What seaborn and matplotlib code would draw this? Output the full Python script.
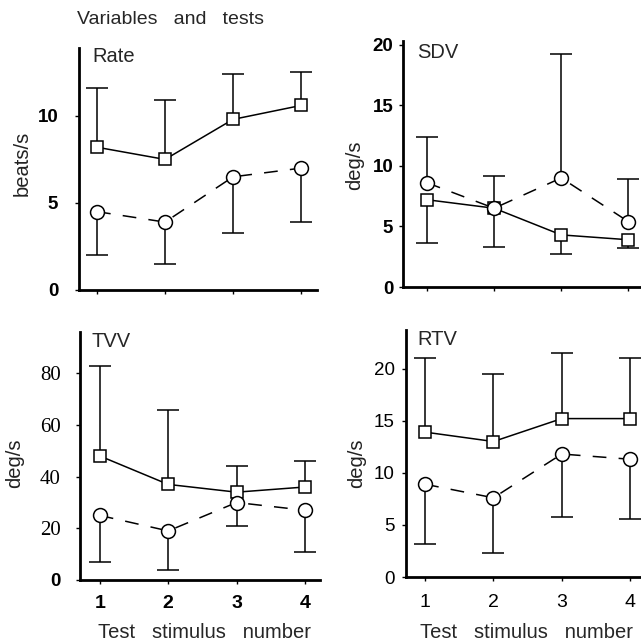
import numpy as np
import matplotlib
matplotlib.use("Agg")
import matplotlib.pyplot as plt
import seaborn as sns

# test numbers on the x axis
tests = [1, 2, 3, 4]

# Rate (beats/s): squares with upper bars, circles with lower bars
rate_sq = [8.2, 7.5, 9.8, 10.6]
rate_sq_end = [11.6, 10.9, 12.4, 12.5]
rate_ci = [4.5, 3.9, 6.5, 7.0]
rate_ci_end = [2.0, 1.5, 3.3, 3.9]

# SDV (deg/s): squares with lower bars, circles with upper bars
sdv_sq = [7.2, 6.5, 4.3, 3.9]
sdv_sq_end = [3.6, 3.3, 2.7, 3.2]
sdv_ci = [8.6, 6.5, 9.0, 5.4]
sdv_ci_end = [12.4, 9.2, 19.2, 8.9]

# TVV (deg/s)
tvv_sq = [48, 37, 34, 36]
tvv_sq_end = [83, 66, 44, 46]
tvv_ci = [25, 19, 30, 27]
tvv_ci_end = [7, 4, 21, 11]

# RTV (deg/s)
rtv_sq = [13.9, 13.0, 15.2, 15.2]
rtv_sq_end = [21.0, 19.5, 21.5, 21.0]
rtv_ci = [8.9, 7.6, 11.8, 11.3]
rtv_ci_end = [3.2, 2.3, 5.8, 5.6]

sns.set_style("ticks")
plt.rcParams["font.family"] = ["Liberation Sans", "DejaVu Sans"]

W, H = 641, 643
fig = plt.figure(figsize=(W / 100, H / 100), dpi=100)


def box(l, t, r, b):
    return [l / W, 1 - b / H, (r - l) / W, (b - t) / H]


def series(ax, vals, ends, marker, ms, dashed):
    vals = np.array(vals, float)
    ends = np.array(ends, float)
    up = ends > vals
    lo = np.where(up, 0, vals - ends)
    hi = np.where(up, ends - vals, 0)
    _, caps, _ = ax.errorbar(tests, vals, yerr=[lo, hi], fmt="none", ecolor="black",
                             elinewidth=1.1, capsize=8, capthick=1.1, zorder=2, clip_on=False)
    for c in caps:
        if np.allclose(c.get_ydata(), vals):
            c.set_visible(False)
    sns.lineplot(x=tests, y=vals, ax=ax, color="black", lw=1.1, marker=marker, ms=ms,
                 mfc="white", mec="black", mew=1.1, zorder=3, clip_on=False)
    if dashed:
        ax.lines[-1].set_dashes((9, 8))


def panel(rect, xlim, ylim, yticks, sq, sq_end, ci, ci_end, pad):
    ax = fig.add_axes(box(*rect))
    series(ax, sq, sq_end, "s", 8, False)
    series(ax, ci, ci_end, "o", 10, True)
    ax.set_xlim(*xlim)
    ax.set_ylim(*ylim)
    ax.set_xticks(tests)
    ax.set_yticks(yticks)
    ax.set_xlabel("")
    ax.set_ylabel("")
    sns.despine(ax=ax)
    for s in ("left", "bottom"):
        ax.spines[s].set_linewidth(2)
        ax.spines[s].set_color("black")
    ax.tick_params(axis="both", length=3, width=1, colors="black")
    ax.tick_params(axis="y", pad=pad, labelsize=13.5)
    ax.set_facecolor("none")
    return ax


# Rate
ax1 = panel((79, 48, 317, 290), (0.735, 4.235), (0, 13.9), [0, 5, 10],
            rate_sq, rate_sq_end, rate_ci, rate_ci_end, 12)
ax1.set_xticklabels([])
for t in ax1.get_yticklabels():
    t.set_fontweight("bold")
ax1.text(0.055, 1.005, "Rate", transform=ax1.transAxes, fontsize=14.5, va="top")

# SDV
ax2 = panel((403, 41, 641, 287), (0.64, 4.19), (0, 20.3), [0, 5, 10, 15, 20],
            sdv_sq, sdv_sq_end, sdv_ci, sdv_ci_end, 4)
ax2.set_xticklabels([])
for t in ax2.get_yticklabels():
    t.set_fontweight("bold")
ax2.text(0.06, 0.99, "SDV", transform=ax2.transAxes, fontsize=14.5, va="top")

# TVV
ax3 = panel((80, 332, 320, 580), (0.71, 4.22), (0, 96), [0, 20, 40, 60, 80],
            tvv_sq, tvv_sq_end, tvv_ci, tvv_ci_end, 11)
ax3.set_yticklabels(["0", "20", "40", "60", "80"])
for t in ax3.get_yticklabels():
    if t.get_text() == "0":
        t.set_fontweight("bold")
    else:
        t.set_fontfamily("Liberation Serif")
        t.set_fontsize(15)
ax3.tick_params(axis="x", pad=8, labelsize=14)
for t in ax3.get_xticklabels():
    t.set_fontweight("bold")
ax3.text(0.05, 1.0, "TVV", transform=ax3.transAxes, fontsize=14.5, va="top")

# RTV
ax4 = panel((406, 330, 641, 577), (0.72, 4.16), (0, 23.7), [0, 5, 10, 15, 20],
            rtv_sq, rtv_sq_end, rtv_ci, rtv_ci_end, 5)
ax4.tick_params(axis="x", pad=9, labelsize=14)
ax4.text(0.05, 1.0, "RTV", transform=ax4.transAxes, fontsize=14.5, va="top")

# labels
fig.text(77 / W, 1 - 20 / H, "Variables   and   tests", fontsize=14, va="center")
fig.text(22 / W, 1 - 163 / H, "beats/s", rotation=90, fontsize=14.5, va="center", ha="center", color="#222")
fig.text(355 / W, 1 - 165 / H, "deg/s", rotation=90, fontsize=14.5, va="center", ha="center", color="#222")
fig.text(15 / W, 1 - 463 / H, "deg/s", rotation=90, fontsize=14.5, va="center", ha="center", color="#222")
fig.text(357 / W, 1 - 463 / H, "deg/s", rotation=90, fontsize=14.5, va="center", ha="center", color="#222")
fig.text(205 / W, 1 - 632 / H, "Test   stimulus   number", fontsize=14.5, va="center", ha="center")
fig.text(526 / W, 1 - 632 / H, "Test   stimulus   number", fontsize=14.5, va="center", ha="center")

fig.savefig("out.png", dpi=100)
